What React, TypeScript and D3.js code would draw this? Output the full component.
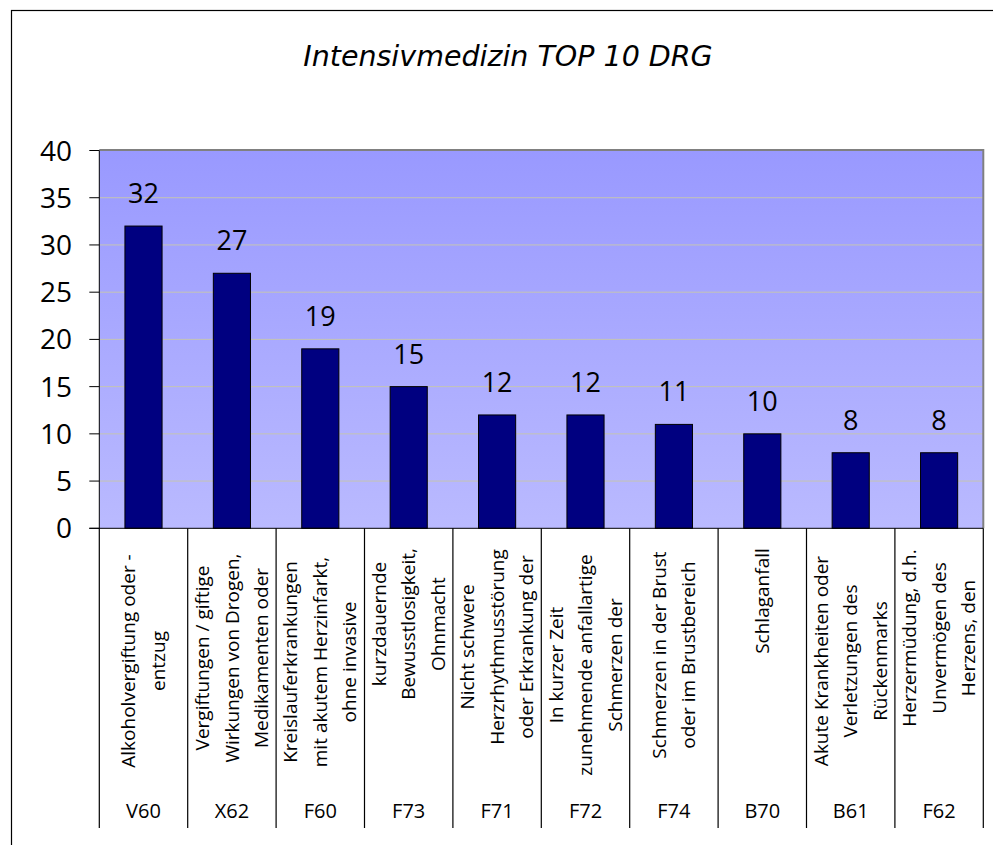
import React from "react";
import * as d3 from "d3";

const codes = ["V60", "X62", "F60", "F73", "F71", "F72", "F74", "B70", "B61", "F62"];
const values = [32, 27, 19, 15, 12, 12, 11, 10, 8, 8];
const labelLines: string[][] = [
  ["Alkoholvergiftung oder -", "entzug"],
  ["Vergiftungen / giftige", "Wirkungen von Drogen,", "Medikamenten oder"],
  ["Kreislauferkrankungen", "mit akutem Herzinfarkt,", "ohne invasive"],
  ["kurzdauernde", "Bewusstlosigkeit,", "Ohnmacht"],
  ["Nicht schwere", "Herzrhythmusstörung", "oder Erkrankung der"],
  ["In kurzer Zeit", "zunehmende anfallartige", "Schmerzen der"],
  ["Schmerzen in der Brust", "oder im Brustbereich"],
  ["Schlaganfall"],
  ["Akute Krankheiten oder", "Verletzungen des", "Rückenmarks"],
  ["Herzermüdung, d.h.", "Unvermögen des", "Herzens, den"],
];
const yTicks = [0, 5, 10, 15, 20, 25, 30, 35, 40];
const title = "Intensivmedizin TOP 10 DRG";

// vertical centre of each rotated label block (layout, keyed by code)
const labelCenterY: Record<string, number> = {
  V60: 661, X62: 658, F60: 662, F73: 624, F71: 647, F72: 665, F74: 655, B70: 601, B61: 661, F62: 638,
};

const FONT = "'Open Sans', 'DejaVu Sans', sans-serif";

export default function App() {
  const W = 993, H = 845;
  const left = 99.3, right = 983.3, top = 150.5, bottom = 528.3;
  const x = d3.scaleBand<string>().domain(codes).range([left, right]).paddingInner(0).paddingOuter(0);
  const y = d3.scaleLinear().domain([0, 40]).range([bottom, top]);
  const bw = x.bandwidth();
  const barW = bw * 0.42;
  const lineGap = 29.5;

  return (
    <svg width={W} height={H} style={{ position: "absolute", left: 0, top: 0, background: "#fff" }}>
      <defs>
        <linearGradient id="bg" x1="0" y1="0" x2="0" y2="1">
          <stop offset="0" stopColor="#9999ff" />
          <stop offset="1" stopColor="#babaff" />
        </linearGradient>
      </defs>
      <rect x={0} y={0} width={W} height={H} fill="#fff" />
      <rect x={11.5} y={10.5} width={1010} height={900} fill="none" stroke="#000" strokeWidth={1.2} />
      <text x={508} y={66} textAnchor="middle" fontFamily="'DejaVu Sans', sans-serif" fontStyle="italic" fontWeight={400} fontSize={28.5} fill="#000">
        {title}
      </text>

      {/* plot area */}
      <rect x={left} y={top} width={right - left} height={bottom - top} fill="url(#bg)" />
      {yTicks.filter((t) => t > 0 && t < 40).map((t) => (
        <line key={t} x1={left} x2={right} y1={y(t)} y2={y(t)} stroke="#c4c4b4" strokeWidth={1} />
      ))}
      <line x1={left} x2={right} y1={top - 0.5} y2={top - 0.5} stroke="#808080" strokeWidth={2} />
      <line x1={right} x2={right} y1={top - 1.5} y2={bottom} stroke="#808080" strokeWidth={2} />

      {values.map((v, i) => {
        const cx = (x(codes[i]) as number) + bw / 2;
        return (
          <g key={codes[i]}>
            <rect x={cx - barW / 2} y={y(v)} width={barW} height={bottom - y(v)} fill="#000080" stroke="#000" strokeWidth={1} />
            <text x={cx} y={y(v) - 23} textAnchor="middle" fontFamily={FONT} fontSize={27} fill="#000">
              {v}
            </text>
          </g>
        );
      })}

      {/* y axis */}
      <line x1={left} x2={left} y1={top} y2={bottom} stroke="#000" strokeWidth={1} />
      {yTicks.map((t) => (
        <g key={t}>
          <line x1={left - 10} x2={left} y1={y(t)} y2={y(t)} stroke="#000" strokeWidth={1} />
          <text x={72} y={y(t)} dy="0.36em" textAnchor="end" fontFamily={FONT} fontSize={28} fill="#000">
            {t}
          </text>
        </g>
      ))}

      {/* category axis / table */}
      <line x1={left - 10} x2={right} y1={bottom} y2={bottom} stroke="#000" strokeWidth={1} />
      {codes.concat(["__end"]).map((c, i) => {
        const xx = i < codes.length ? (x(c) as number) : right;
        return <line key={c} x1={xx} x2={xx} y1={bottom} y2={828} stroke="#000" strokeWidth={1.2} />;
      })}
      {codes.map((c, i) => {
        const cx = (x(c) as number) + bw / 2;
        const lines = labelLines[i];
        const n = lines.length;
        const cy = labelCenterY[c];
        return (
          <g key={c}>
            {lines.map((ln, j) => {
              const lx = cx + (j - (n - 1) / 2) * lineGap;
              return (
                <text
                  key={j}
                  transform={`translate(${lx},${cy}) rotate(-90)`}
                  textAnchor="middle"
                  dy="0.35em"
                  fontFamily={FONT}
                  fontSize={19}
                  fill="#000"
                >
                  {ln}
                </text>
              );
            })}
            <text x={cx} y={818} textAnchor="middle" fontFamily={FONT} fontSize={20} fill="#000">
              {c}
            </text>
          </g>
        );
      })}
    </svg>
  );
}
